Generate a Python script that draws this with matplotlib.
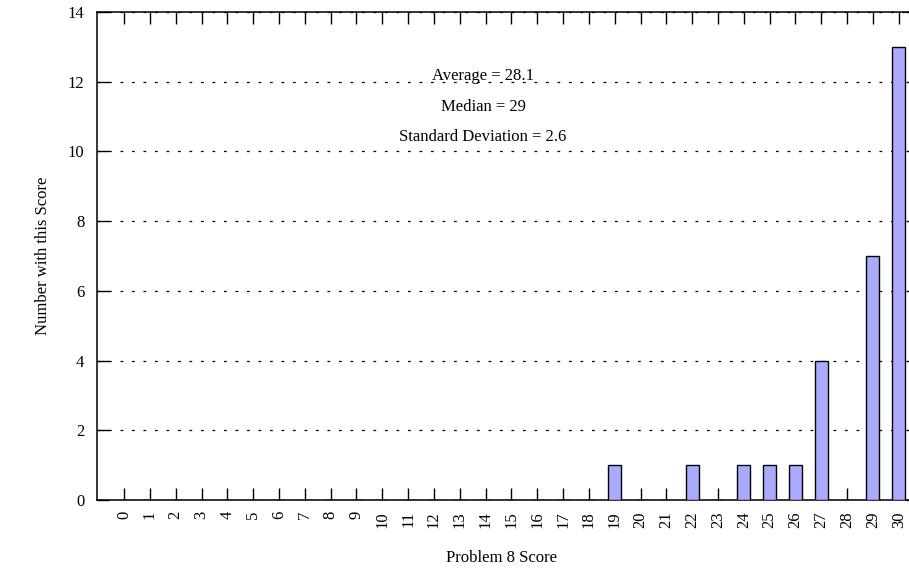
import matplotlib.pyplot as plt

plt.rcParams["font.family"] = ["Liberation Serif", "DejaVu Serif"]

scores = list(range(0, 31))
counts = [0, 0, 0, 0, 0, 0, 0, 0, 0, 0,
          0, 0, 0, 0, 0, 0, 0, 0, 0, 1,
          0, 0, 1, 0, 1, 1, 1, 4, 0, 7, 13]
stats_lines = ["Average = 28.1", "Median = 29", "Standard Deviation = 2.6"]
stats_y = [12.15, 11.28, 10.42]

fig = plt.figure(figsize=(9.09, 5.69), dpi=100)
ax = fig.add_axes([0.1067, 0.1213, 0.9033, 0.8576])

ax.bar(scores, counts, width=0.5, color="#aaaaff", edgecolor="black",
       linewidth=1.0, zorder=3)

ax.set_xlim(-1.05, 30.75)
ax.set_ylim(0, 14)
ax.set_xticks(scores)
ax.set_xticklabels([str(s) for s in scores], rotation=90, fontsize=12)
ax.set_yticks(range(0, 15, 2))
ax.tick_params(axis="y", labelsize=12)
ax.tick_params(axis="both", direction="in", length=8.5, width=1.0,
               top=True, right=True)
ax.tick_params(axis="x", pad=8)
ax.tick_params(axis="y", pad=9)

ax.set_axisbelow(True)
ax.yaxis.grid(True, color="black", linewidth=0.9, linestyle=(0, (2.2, 7)))
for sp in ax.spines.values():
    sp.set_linewidth(1.1)

for text, y in zip(stats_lines, stats_y):
    ax.text(13.9, y, text, ha="center", va="center", fontsize=12)

ax.set_xlabel("Problem 8 Score", fontsize=12)
ax.set_ylabel("Number with this Score", fontsize=12)
ax.xaxis.set_label_coords(0.493, -0.102)
ax.yaxis.set_label_coords(-0.056, 0.5)

fig.savefig("out.png", dpi=100)
